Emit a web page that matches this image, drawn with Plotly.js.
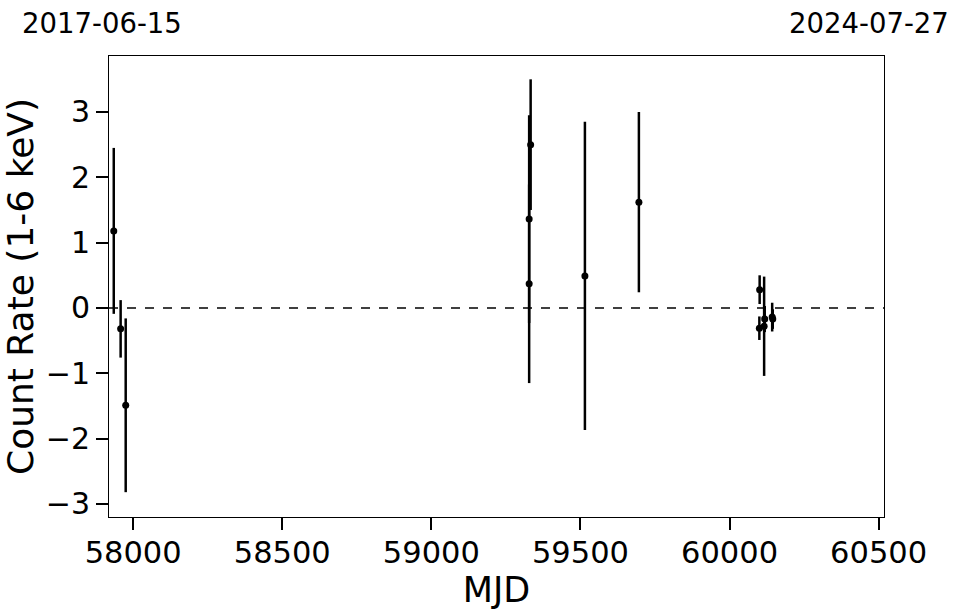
<!DOCTYPE html>
<html>
<head>
<meta charset="utf-8">
<script src="https://cdn.plot.ly/plotly-3.0.1.min.js"></script>
<style>
html,body{margin:0;padding:0;background:#fff;}
#chart{width:962px;height:613px;}
</style>
</head>
<body>
<div id="chart"></div>
<script>
// Observation epochs (MJD), count rates and 1-sigma errors
const mjd  = [57935, 57958, 57975, 59328, 59328, 59333, 59515, 59696, 60101, 60100, 60116, 60118, 60143, 60145];
const rate = [1.18, -0.32, -1.49, 1.36, 0.37, 2.50, 0.49, 1.62, 0.28, -0.31, -0.28, -0.17, -0.14, -0.17];
const err  = [1.27, 0.44, 1.33, 1.59, 1.52, 1.00, 2.36, 1.38, 0.22, 0.18, 0.76, 0.20, 0.22, 0.15];

const startDate = "2017-06-15";
const endDate = "2024-07-27";
const xRange = [57919, 60518];
const yRange = [-3.2, 3.857];
const xTicks = [58000, 58500, 59000, 59500, 60000, 60500];
const yTicks = [-3, -2, -1, 0, 1, 2, 3];

const font = "DejaVu Sans, sans-serif";

const trace = {
  x: mjd, y: rate, type: "scatter", mode: "markers",
  marker: {color: "black", size: 7},
  error_y: {type: "data", array: err, visible: true, thickness: 2.5, width: 0, color: "black"},
  hoverinfo: "x+y"
};

const layout = {
  width: 962, height: 613,
  margin: {l: 109, r: 78, t: 56, b: 96},
  paper_bgcolor: "#fff", plot_bgcolor: "#fff",
  showlegend: false,
  font: {family: font, color: "black"},
  xaxis: {
    range: xRange, tickvals: xTicks, ticktext: xTicks.map(String),
    showgrid: false, zeroline: false,
    showline: true, linecolor: "black", linewidth: 1, mirror: true,
    ticks: "outside", ticklen: 12, tickwidth: 2, tickcolor: "black",
    ticklabelstandoff: -4,
    tickfont: {size: 30.5, family: font},
    title: {text: "MJD", font: {size: 35, family: font}, standoff: 0}
  },
  yaxis: {
    range: yRange, tickvals: yTicks, ticktext: yTicks.map(v => v < 0 ? "\u2212" + Math.abs(v) : String(v)),
    showgrid: false, zeroline: false,
    showline: true, linecolor: "black", linewidth: 1, mirror: true,
    ticks: "outside", ticklen: 12, tickwidth: 2, tickcolor: "black",
    tickfont: {size: 30, family: font},
    title: {text: "Count Rate (1-6 keV)", font: {size: 36, family: font}, standoff: 6}
  },
  shapes: [{
    type: "line", xref: "paper", x0: 0, x1: 1, yref: "y", y0: 0, y1: 0,
    line: {color: "black", width: 1.5, dash: "dash"}, layer: "below"
  }],
  annotations: [
    {text: startDate, xref: "paper", yref: "paper", x: -0.115, y: 1.072,
     xanchor: "left", yanchor: "middle", showarrow: false, font: {size: 27.5, family: font}},
    {text: endDate, xref: "paper", yref: "paper", x: 1.087, y: 1.072,
     xanchor: "right", yanchor: "middle", showarrow: false, font: {size: 27.5, family: font}}
  ]
};

Plotly.newPlot("chart", [trace], layout, {displayModeBar: false, staticPlot: true});
</script>
</body>
</html>
